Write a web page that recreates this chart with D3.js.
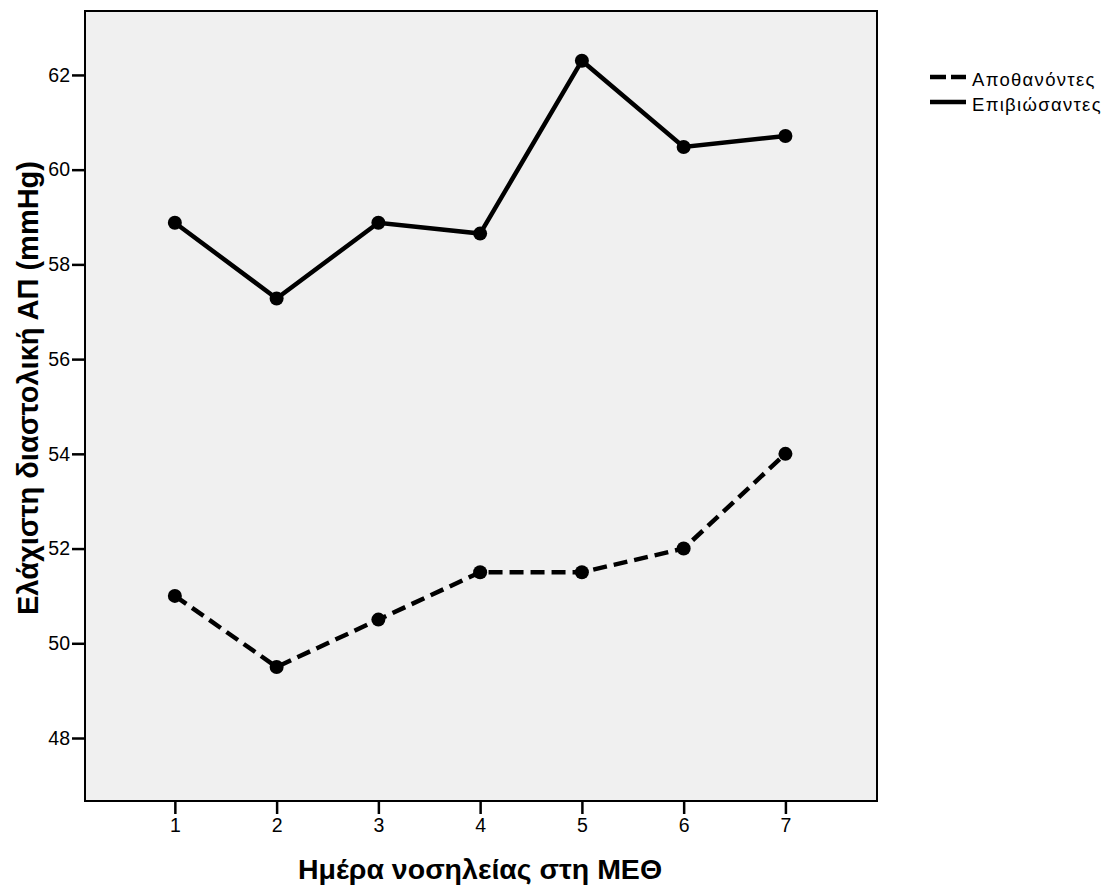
<!DOCTYPE html>
<html><head><meta charset="utf-8">
<script src="https://cdn.jsdelivr.net/npm/d3@7"></script>
<style>body{margin:0;background:#fff;font-family:Arial,"Liberation Sans",sans-serif;}</style>
</head><body><svg id="c" width="1113" height="892"></svg>
<script>
const days = [1,2,3,4,5,6,7];
const deceased = [51.0, 49.5, 50.5, 51.5, 51.5, 52.0, 54.0];
const survivors = [58.88, 57.28, 58.88, 58.65, 62.3, 60.48, 60.71];
const yTicks = [48,50,52,54,56,58,60,62];
const seriesNames = ["Αποθανόντες","Επιβιώσαντες"];

const svg = d3.select("#c");
const L=85,R=877,T=11,B=801;
const x = d3.scaleLinear().domain([0.117,7.9]).range([L,R]);
const y = d3.scaleLinear().domain([46.67,63.35]).range([B,T]);

svg.append("rect").attr("x",L).attr("y",T).attr("width",R-L).attr("height",B-T).attr("fill","#f0f0f0");

const ya = svg.append("g").attr("transform",`translate(${L},0)`).call(d3.axisLeft(y).tickValues(yTicks).tickSize(13).tickPadding(2));
const xa = svg.append("g").attr("transform",`translate(0,${B})`).call(d3.axisBottom(x).tickValues(days).tickSize(13).tickPadding(4));
[ya,xa].forEach(a=>{a.select(".domain").remove();a.attr("font-size",null).attr("font-family",null);
  a.selectAll("line").attr("stroke","#000").attr("stroke-width",2.5);
  a.selectAll("text").style("font-size","19.5px").style("font-family","Arial,'Liberation Sans',sans-serif").attr("fill","#000");});

const line = d3.line().x((d,i)=>x(days[i])).y(d=>y(d));
svg.append("path").datum(deceased).attr("d",line).attr("fill","none").attr("stroke","#000").attr("stroke-width",4.5).attr("stroke-dasharray","14,7");
svg.append("path").datum(survivors).attr("d",line).attr("fill","none").attr("stroke","#000").attr("stroke-width",4.5);
[deceased,survivors].forEach(s=>{
  svg.append("g").selectAll("circle").data(s).join("circle").attr("cx",(d,i)=>x(days[i])).attr("cy",d=>y(d)).attr("r",7).attr("fill","#000");
});

svg.append("rect").attr("x",L).attr("y",T).attr("width",R-L).attr("height",B-T).attr("fill","none").attr("stroke","#000").attr("stroke-width",2);

// legend
const lg = svg.append("g");
seriesNames.forEach((n,i)=>{
  const yy = 77 + i*25;
  lg.append("line").attr("x1",930).attr("x2",966).attr("y1",yy).attr("y2",yy).attr("stroke","#000").attr("stroke-width",4.5).attr("stroke-dasharray",i===0?"16,5":null);
  lg.append("text").attr("x",972).attr("y",yy+9).style("font-size","18.5px").style("letter-spacing","1.3px").attr("fill","#000").text(n);
});

svg.append("text").attr("x",480).attr("y",879).attr("text-anchor","middle").style("font-size","28.5px").attr("font-weight","bold").text("Ημέρα νοσηλείας στη ΜΕΘ");
svg.append("text").attr("transform","translate(38,388) rotate(-90)").attr("text-anchor","middle").style("font-size","29px").attr("font-weight","bold").text("Ελάχιστη διαστολική ΑΠ (mmHg)");
</script></body></html>
